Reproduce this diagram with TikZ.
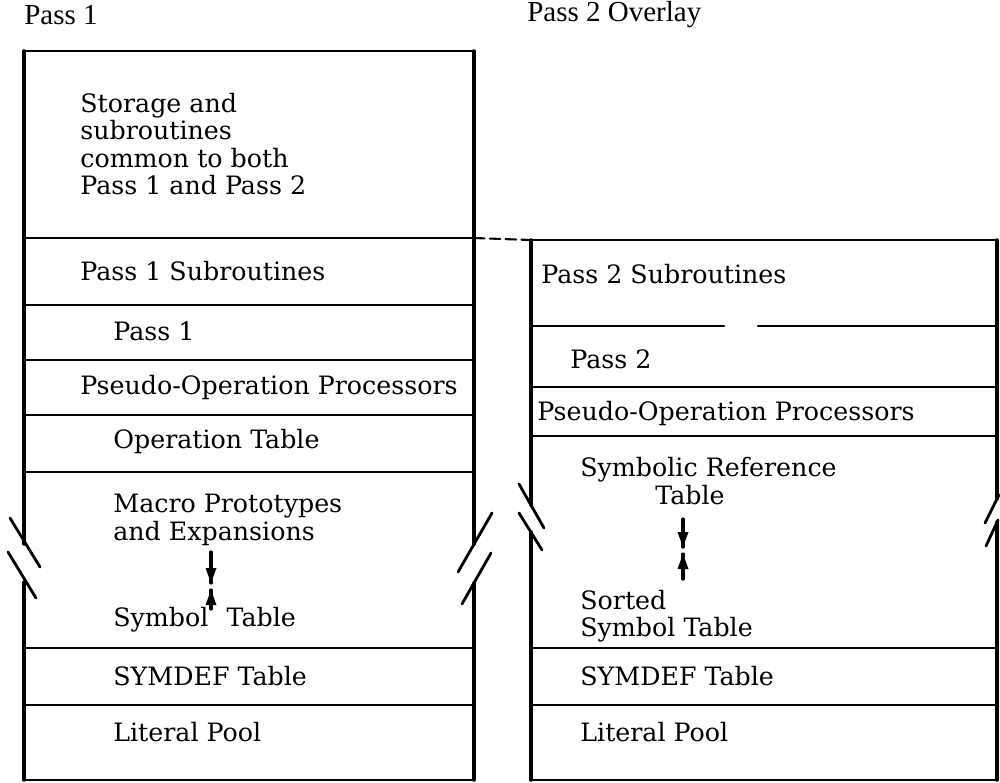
\documentclass[tikz,border=0pt]{standalone}
\usepackage{fontspec}
\usepackage{tkz-euclide}
\usepackage{tikz}
\setmainfont{DejaVu Serif}
\newfontfamily\headfont{Liberation Serif}

\begin{document}
\begin{tikzpicture}[x=0.02cm, y=-0.02cm,
    txt/.style={anchor=west, inner sep=0pt, align=left,
                font=\fontsize{14.4}{15.6}\selectfont},
    head/.style={anchor=west, inner sep=0pt, font=\headfont\fontsize{16.5}{19}\selectfont}]
    \path[use as bounding box] (0,0) rectangle (1000,782);
    % pass 1 column
    \tkzDefPoints{24/51/A,474/51/B,24/780/C,474/780/D}
    \tkzDefPoints{24/238/L1,474/238/R1,24/305/L2,474/305/R2,24/360/L3,474/360/R3,
        24/415/L4,474/415/R4,24/472/L5,474/472/R5,24/648/L6,474/648/R6,24/705/L7,474/705/R7}
    \tkzDefPoints{24/544/E1,24/582/E2,474/544/F1,474/583/F2}
    \tkzDefPoints{10/518/S1,40/567/S2,8/552/S3,36/598/S4,
        492/513/S5,458/572/S6,491/553/S7,462/604/S8}
    % pass 2 overlay column
    \tkzDefPoints{531/240/G,997/240/H,531/780/I,997/780/J}
    \tkzDefPoints{531/326/U1,724/326/W1,758/326/W2,997/326/V1,531/387/U2,997/387/V2,
        531/436/U3,997/436/V3,531/648/U4,997/648/V4,531/705/U5,997/705/V5}
    \tkzDefPoints{531/505/K1,531/532/K2,997/499/K3,997/522/K4}
    \tkzDefPoints{519/484/T1,544/528/T2,519/513/T3,542/550/T4,
        999/495/T5,985/523/T6,998/520/T7,986/546/T8}
    % arrows between the growing tables
    \tkzDefPoints{211/552/X1,211/583/X2,211/609/X3,211/590/X4,
        683/519/Y1,683/547/Y2,683/579/Y3,683/554/Y4}
    \tkzDrawSegments[line width=2pt](A,E1 E2,C B,F1 F2,D G,K1 K2,I H,K3 K4,J)
    \tkzDrawSegments[line width=1.5pt](A,B L1,R1 L2,R2 L3,R3 L4,R4 L5,R5 L6,R6 L7,R7 C,D)
    \tkzDrawSegments[line width=1.5pt](G,H U1,W1 W2,V1 U2,V2 U3,V3 U4,V4 U5,V5 I,J)
    \tkzDrawSegments[line width=1.6pt](S1,S2 S3,S4 S5,S6 S7,S8 T1,T2 T3,T4 T5,T6 T7,T8)
    \tkzDrawSegments[line width=1.2pt, dash pattern=on 6pt off 3pt](R1,G)
    \tkzDrawSegments[line width=1.8pt](X1,X2 X3,X4 Y1,Y2 Y3,Y4)
    % heads drawn by hand, 15 long and 11 wide
    \fill (X2) -- ++(-5.5,-15) -- ++(11,0) -- cycle;
    \fill (X4) -- ++(-5.5,15) -- ++(11,0) -- cycle;
    \fill (Y2) -- ++(-5.5,-15) -- ++(11,0) -- cycle;
    \fill (Y4) -- ++(-5.5,15) -- ++(11,0) -- cycle;
    % labels
    \node[head] (hd1) at (24,15) {Pass 1};
    \node[head] (hd2) at (527,15) {Pass 2 Overlay};
    \node[txt] (common) at (80,144) {Storage and\\subroutines\\common to both\\Pass 1 and Pass 2};
    \node[txt] (sub1) at (80,271) {Pass 1 Subroutines};
    \node[txt] (pass1) at (113,331) {Pass 1};
    \node[txt] (pseudo1) at (80,388) {Pseudo-Operation Processors};
    \node[txt] (optab) at (113,442) {Operation Table};
    \node[txt] (macro) at (113,520) {Macro Prototypes\\and Expansions};
    \node[txt] (symtab) at (113,620) {Symbol\hspace{0.4em} Table};
    \node[txt] (symdef1) at (113,676) {SYMDEF Table};
    \node[txt] (lit1) at (113,732) {Literal Pool};
    \node[txt] (sub2) at (541,274) {Pass 2 Subroutines};
    \node[txt] (pass2) at (570,359) {Pass 2};
    \node[txt] (pseudo2) at (537,414) {Pseudo-Operation Processors};
    \node[txt] (symref) at (580,481) {Symbolic Reference\\\hspace*{1.5cm}Table};
    \node[txt] (sorted) at (580,616) {Sorted\\Symbol Table};
    \node[txt] (symdef2) at (580,676) {SYMDEF Table};
    \node[txt] (lit2) at (580,732) {Literal Pool};
\end{tikzpicture}
\end{document}
